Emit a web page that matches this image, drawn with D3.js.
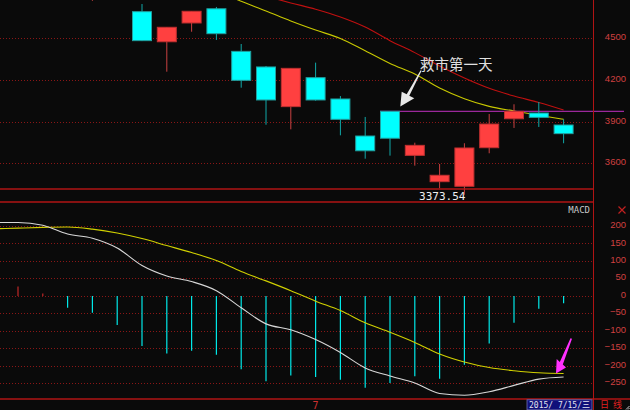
<!DOCTYPE html>
<html><head><meta charset="utf-8">
<script src="https://cdn.jsdelivr.net/npm/d3@7"></script>
<style>html,body{margin:0;padding:0;background:#0a0a0a;}svg{display:block;}</style>
</head><body>
<script>
// ---- data ----
const dates = ["2015-06-11","2015-06-12","2015-06-15","2015-06-16","2015-06-17","2015-06-18","2015-06-19","2015-06-23","2015-06-24","2015-06-25","2015-06-26","2015-06-29","2015-06-30","2015-07-01","2015-07-02","2015-07-03","2015-07-06","2015-07-07","2015-07-08","2015-07-09","2015-07-10","2015-07-13","2015-07-14","2015-07-15"];
const openP  = [5101,5143,5174,5004,4890,4967,4689,4473,4608,4710,4404,4292,4007,4215,4062,3796,3973.5,3657,3468,3435,3712,3920,3961,3875];
const highP  = [5122,5178,5176,5029,4968,4983,4744,4577,4692,4723,4457,4299,4282,4323,4083,3933,3973.5,3748,3595,3744,3954,4024,4040,3916];
const lowP   = [5050,5099,5048,4842,4767,4780,4478,4258,4545,4486,4143,3877,3844,4050,3801,3633,3655,3583,3421,3373.54,3672,3854,3861,3744];
const closeP = [5106,5166,5062,4887,4967,4785,4481,4577,4692,4531,4196,4055,4282,4055,3916,3690,3780,3729,3514,3710,3882,3973,3930,3813];
const maYellow = [5280,5250,5220,5180,5130,5080,5020,4960,4905,4838,4764,4694,4622,4557,4497,4408,4317,4241,4141,4064,4009,3976,3945,3916];
const maRed    = [5195,5180,5160,5135,5105,5070,5030,4988,4942,4895,4848,4800,4752,4707,4651,4579,4481,4395,4299,4213,4139,4083,4037,3983];
const dif  = [210,210,202,177,165,137,87,57,41,15,-34,-80,-97,-125,-162,-206,-229,-249,-279,-284,-274,-256,-238,-232];
const dea  = [192,194,196,197,191,180,164,144,124,101,70,43,15,-15,-42,-77,-104,-133,-166,-189,-205,-214,-220,-222];
const macdBar = [36,26.7,6.6,-33.6,-48,-83,-143,-165,-157,-168,-210,-244,-228,-232,-240,-263,-249,-230,-237,-197,-136,-77,-36.5,-21];
const priceTicks = [3600,3900,4200,4500];
const macdTicks = [200,150,100,50,0,-50,-100,-150,-200,-250];
const noteText = "救市第一天";
const noteDate = "2015-07-06";
const weekdayCN = ["日","一","二","三","四","五","六"];

// ---- layout ----
const W = 630, H = 410, axisX = 593;
const svg = d3.select("body").append("svg").attr("width", W).attr("height", H);
svg.append("rect").attr("width", W).attr("height", H).attr("fill", "#0a0a0a");

const x = d3.scalePoint().domain(dates).range([-6.8, 563.6]);
const yP = d3.scaleLinear().domain([3600, 4500]).range([163.3, 38]);
const yM = d3.scaleLinear().domain([-250, 200]).range([383.3, 226]);

const bars = dates.map((d, i) => ({d, o: openP[i], h: highP[i], l: lowP[i], c: closeP[i], ma1: maYellow[i], ma2: maRed[i], dif: dif[i], dea: dea[i], m: macdBar[i]}));

// grid lines
const gridColor = "#8a1616";
svg.append("g").selectAll("line").data(priceTicks).join("line")
  .attr("x1", 0).attr("x2", axisX).attr("y1", d => Math.round(yP(d)) + 0.5).attr("y2", d => Math.round(yP(d)) + 0.5)
  .attr("stroke", gridColor).attr("stroke-dasharray", "1,2");
svg.append("g").selectAll("line").data(macdTicks).join("line")
  .attr("x1", 0).attr("x2", axisX).attr("y1", d => Math.round(yM(d)) + 0.5).attr("y2", d => Math.round(yM(d)) + 0.5)
  .attr("stroke", gridColor).attr("stroke-dasharray", "1,2");

// axes labels
const axP = svg.append("g").attr("transform", "translate(626,-1.5)")
  .call(d3.axisLeft(yP).tickValues(priceTicks).tickSize(0).tickPadding(0).tickFormat(d3.format("d")));
const axM = svg.append("g").attr("transform", "translate(626,-1.5)")
  .call(d3.axisLeft(yM).tickValues(macdTicks).tickSize(0).tickPadding(0).tickFormat(d3.format("d")));
[axP, axM].forEach(a => {
  a.select(".domain").remove();
  a.selectAll("text").attr("fill", "#d04040").style("font-family", "'Liberation Sans', Arial, sans-serif").style("font-size", "9.5px");
});

// moving averages
const lineP = (key) => d3.line().curve(d3.curveMonotoneX).x(d => x(d.d)).y(d => yP(d[key]));
svg.append("path").datum(bars).attr("d", lineP("ma2")).attr("fill", "none").attr("stroke", "#c01010").attr("stroke-width", 1.1);
svg.append("path").datum(bars).attr("d", lineP("ma1")).attr("fill", "none").attr("stroke", "#c8c800").attr("stroke-width", 1.1);

// reference line at rescue-day open
const noteBar = bars.find(b => b.d === noteDate);
svg.append("line").attr("x1", x(noteDate) - 10).attr("x2", 624)
  .attr("y1", yP(noteBar.o)).attr("y2", yP(noteBar.o)).attr("stroke", "#c030c0").attr("stroke-width", 1);

// lowest label
const lowIdx = d3.minIndex(lowP);
svg.append("text").attr("x", x(dates[lowIdx]) + 1).attr("y", 199.5).attr("text-anchor", "end")
  .attr("fill", "#f0f0f0").style("font-family", "'DejaVu Sans Mono', monospace").style("font-size", "11px")
  .text(d3.format(".2f")(lowP[lowIdx]));

// candles
const cg = svg.append("g").selectAll("g").data(bars).join("g");
cg.append("line").attr("x1", d => x(d.d)).attr("x2", d => x(d.d))
  .attr("y1", d => yP(d.h)).attr("y2", d => yP(d.l))
  .attr("stroke", d => d.c >= d.o ? "#c84040" : "#10a8a8").attr("stroke-width", 1);
cg.append("rect").attr("x", d => x(d.d) - 9.5).attr("width", 19)
  .attr("y", d => yP(Math.max(d.o, d.c))).attr("height", d => Math.max(1, yP(Math.min(d.o, d.c)) - yP(Math.max(d.o, d.c))))
  .attr("fill", d => d.c >= d.o ? "#ff4040" : "#00ffff")
  .attr("stroke", d => d.c >= d.o ? "#c03030" : "#20a0a0").attr("stroke-width", 1);

// annotation arrow + text
const tipX = x(noteDate) + 10.3, tipY = yP(noteBar.o) - 4.8;
const arrowW = [[0,0],[1.4,-14.8],[6.4,-12.2],[20.3,-36.2],[21.3,-35.8],[9,-10.8],[14,-8.2]];
svg.append("polygon").attr("points", arrowW.map(p => [tipX + p[0], tipY + p[1]].join(",")).join(" "))
  .attr("fill", "#e8e8e8");
svg.append("text").attr("x", tipX + 19.7).attr("y", tipY - 36.5)
  .attr("fill", "#e0e0e0").style("font-family", "'Noto Sans CJK SC', sans-serif").style("font-size", "14.5px")
  .text(noteText);

// MACD histogram
const zeroY = yM(0);
svg.append("g").selectAll("line").data(bars).join("line")
  .attr("x1", d => x(d.d)).attr("x2", d => x(d.d))
  .attr("y1", zeroY).attr("y2", d => yM(d.m))
  .attr("stroke", d => d.m >= 0 ? "#c02828" : "#00e8e8").attr("stroke-width", 1.2);

// DIF / DEA
const lineM = (key) => d3.line().curve(d3.curveMonotoneX).x(d => x(d.d)).y(d => yM(d[key]));
svg.append("path").datum(bars).attr("d", lineM("dea")).attr("fill", "none").attr("stroke", "#d0d000").attr("stroke-width", 1.1);
svg.append("path").datum(bars).attr("d", lineM("dif")).attr("fill", "none").attr("stroke", "#d8d8d8").attr("stroke-width", 1.1);

// magenta arrow at last DEA point
const last = bars[bars.length - 1];
const mX = x(last.d) - 7.6, mY = yM(last.dea) - 0.1;
const arrowM = [[0,0],[0.7,-14.4],[3.8,-11.5],[14.5,-35.2],[16,-34.7],[6.8,-8.9],[10,-6]];
svg.append("polygon").attr("points", arrowM.map(p => [mX + p[0], mY + p[1]].join(",")).join(" "))
  .attr("fill", "#ff30ff");

// panel borders
const border = "#b01414";
svg.append("line").attr("x1", 0).attr("x2", axisX).attr("y1", 189).attr("y2", 189).attr("stroke", border).attr("stroke-width", 1.5);
svg.append("line").attr("x1", 0).attr("x2", axisX).attr("y1", 202).attr("y2", 202).attr("stroke", border).attr("stroke-width", 1.5);
svg.append("line").attr("x1", 0).attr("x2", W).attr("y1", 399).attr("y2", 399).attr("stroke", border).attr("stroke-width", 1.5);
svg.append("line").attr("x1", axisX + 0.5).attr("x2", axisX + 0.5).attr("y1", 0).attr("y2", H).attr("stroke", border).attr("stroke-width", 1);

// MACD title and close mark
svg.append("text").attr("x", 590).attr("y", 213).attr("text-anchor", "end").attr("fill", "#c8c8c8")
  .style("font-family", "'DejaVu Sans Mono', monospace").style("font-size", "9px").text("MACD");
svg.append("path").attr("d", "M618.5,206.5L625.5,213.5M625.5,206.5L618.5,213.5").attr("stroke", "#c02020").attr("stroke-width", 1.2);

// month labels
const parse = d3.timeParse("%Y-%m-%d");
const monthStarts = dates.filter((d, i) => i > 0 && parse(d).getMonth() !== parse(dates[i - 1]).getMonth());
svg.append("g").selectAll("text").data(monthStarts).join("text")
  .attr("x", d => x(d)).attr("y", 408.5).attr("text-anchor", "middle").attr("fill", "#d03030")
  .style("font-family", "'DejaVu Sans Mono', monospace").style("font-size", "10px")
  .text(d => parse(d).getMonth() + 1);

// date box
const ld = parse(last.d);
const dateStr = `${ld.getFullYear()}/${String(ld.getMonth() + 1).padStart(2, " ")}/${ld.getDate()}/${weekdayCN[ld.getDay()]}`;
svg.append("rect").attr("x", 527).attr("y", 399.8).attr("width", 65).attr("height", 10).attr("fill", "#10107a").attr("stroke", "#7070b8").attr("stroke-width", 0.8);
svg.append("text").attr("x", 529).attr("y", 408.3).attr("fill", "#e4e4f0")
  .attr("textLength", 61).attr("lengthAdjust", "spacingAndGlyphs")
  .style("font-family", "'DejaVu Sans Mono', 'Noto Sans CJK SC', monospace").style("font-size", "9px").text(dateStr);
svg.append("text").attr("x", 600).attr("y", 407.8).attr("fill", "#e02020")
  .attr("textLength", 22).attr("lengthAdjust", "spacing")
  .style("font-family", "'Noto Sans CJK SC', sans-serif").style("font-size", "9px").text("日 线");
svg.append("path").attr("d", "M626,409.5L629.5,406M628,409.5L629.5,408").attr("stroke", "#c8c8c8").attr("stroke-width", 1);
</script>
</body></html>
